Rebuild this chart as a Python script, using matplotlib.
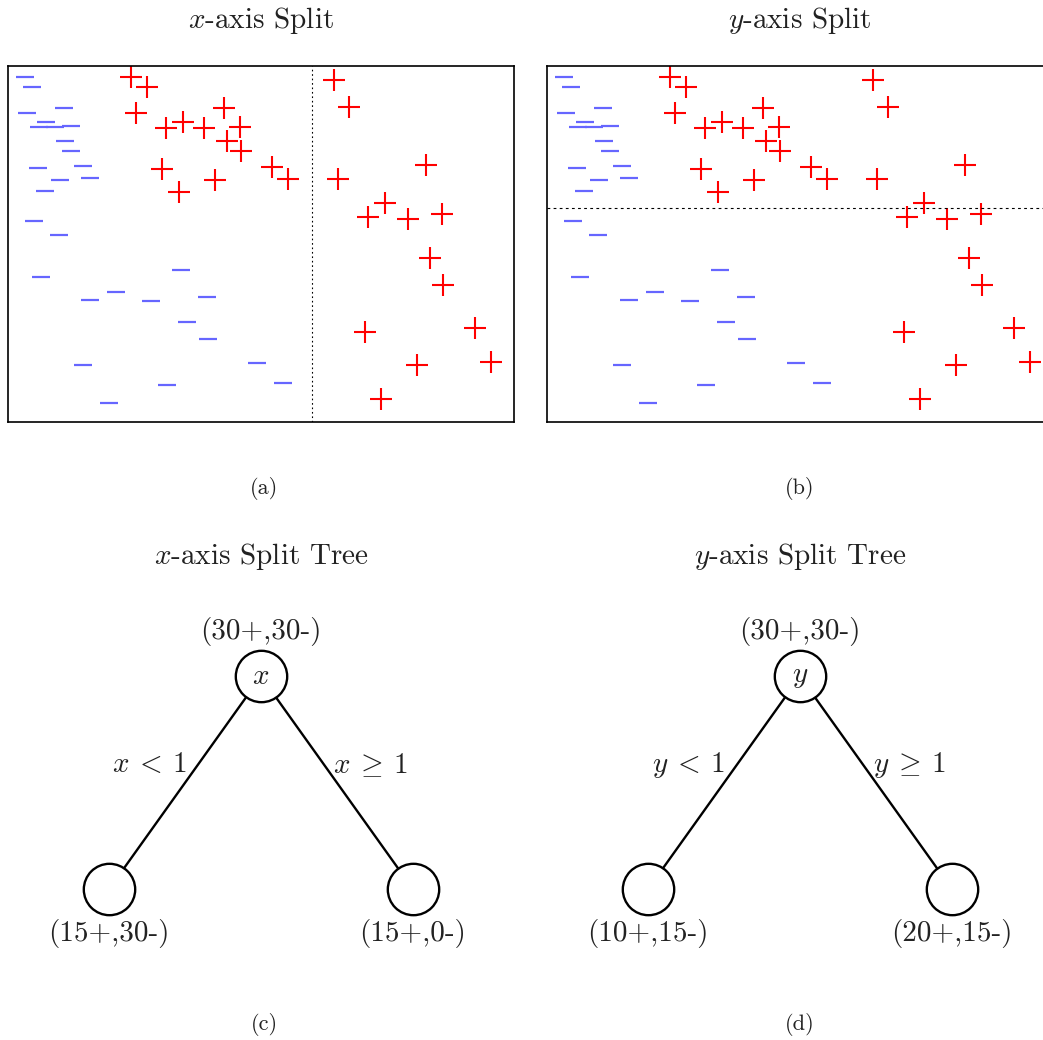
import matplotlib
matplotlib.use("Agg")
import matplotlib.pyplot as plt
import numpy as np

plt.rcParams.update({
    "font.family": "serif",
    "font.serif": ["cmr10", "DejaVu Serif"],
    "mathtext.fontset": "cm",
    "axes.unicode_minus": False,
})

TEXT = "#222222"
RED = "#ff0000"
BLUE = "#6666ff"

# ── data (same points in both scatter panels) ──────────────────
pos_x = [-0.78, -0.63, -0.74, 0.13, -0.44, -0.27, -0.06, 0.29, 0.16, 0.30,
         -0.48, 0.61, 0.05, 0.77, -0.31,
         1.22, 1.37, 2.13, 1.26, 1.73, 1.56, 1.95, 2.29, 2.17, 2.30,
         1.53, 2.61, 2.04, 2.77, 1.69]
pos_y = [2.84, 2.70, 2.34, 2.41, 2.13, 2.21, 2.13, 2.15, 1.94, 1.80,
         1.56, 1.58, 1.40, 1.41, 1.23,
         2.80, 2.43, 1.61, 1.41, 1.07, 0.88, 0.85, 0.92, 0.31, -0.08,
         -0.74, -0.68, -1.20, -1.16, -1.68]
neg_x = [-1.83, -1.76, -1.81, -1.45, -1.62, -1.69, -1.54, -1.38, -1.44, -1.38,
         -1.70, -1.26, -1.49, -1.19, -1.63,
         -1.74, -1.50, -1.67, -0.29, -0.93, -1.19, -0.59, -0.03, -0.23, -0.02,
         -1.26, 0.46, -0.43, 0.72, -1.00]
neg_y = [2.85, 2.71, 2.34, 2.41, 2.22, 2.15, 2.15, 2.16, 1.95, 1.81,
         1.57, 1.59, 1.40, 1.42, 1.24,
         0.83, 0.62, 0.04, 0.14, -0.17, -0.28, -0.30, -0.25, -0.59, -0.83,
         -1.20, -1.17, -1.48, -1.45, -1.74]

x_split = 1.0
y_split = 1.0

# ── tree data ─────────────────────────────────────────────────
tree_x = [0.2, 0.5, 0.8]     # left leaf, root, right leaf
tree_y = [0.18, 0.6, 0.18]
x_tree_counts = ["(15+,30-)", "(30+,30-)", "(15+,0-)"]
y_tree_counts = ["(10+,15-)", "(30+,30-)", "(20+,15-)"]
x_edge_labels = [r"$x\:<\:1$", r"$x\:\geq\:1$"]
y_edge_labels = [r"$y\:<\:1$", r"$y\:\geq\:1$"]

W, H = 1043, 1040
FS = 21
fig = plt.figure(figsize=(W / 100, H / 100), dpi=100)


def px_rect(l, t, r, b):
    return [l / W, 1 - b / H, (r - l) / W, (b - t) / H]


def scatter_panel(rect, split_axis):
    ax = fig.add_axes(rect)
    ax.plot(neg_x, neg_y, ls="none", marker="_", ms=12.5, mew=1.6, color=BLUE)
    ax.plot(pos_x, pos_y, ls="none", marker="+", ms=16, mew=1.5, color=RED)
    if split_axis == "x":
        ax.axvline(x_split, color="black", lw=0.8, ls=(0, (1.5, 2.5)))
    else:
        ax.axhline(y_split, color="black", lw=0.8, ls=(0, (2.5, 3)))
    ax.set_xlim(-2, 3)
    ax.set_ylim(-2, 3)
    ax.set_xticks([])
    ax.set_yticks([])
    for s in ax.spines.values():
        s.set_linewidth(1.2)
    return ax


def tree_panel(rect, counts, edge_labels, var):
    ax = fig.add_axes(rect)
    ax.set_xlim(0, 1)
    ax.set_ylim(0, 0.751)
    ax.axis("off")
    for i in (0, 2):
        ax.plot([tree_x[1], tree_x[i]], [tree_y[1], tree_y[i]], color="black", lw=1.7, zorder=1)
    ax.plot(tree_x, tree_y, ls="none", marker="o", ms=37, mfc="white", mec="black", mew=1.7, zorder=2)
    ax.text(tree_x[1], tree_y[1], f"${var}$", ha="center", va="center", fontsize=FS, color=TEXT, zorder=3)
    ax.annotate(counts[1], (tree_x[1], tree_y[1]), xytext=(0, 32), textcoords="offset points",
                ha="center", va="center", fontsize=FS, color=TEXT)
    for i in (0, 2):
        ax.annotate(counts[i], (tree_x[i], tree_y[i]), xytext=(0, -32), textcoords="offset points",
                    ha="center", va="center", fontsize=FS, color=TEXT)
    ax.annotate(edge_labels[0], ((tree_x[0] + tree_x[1]) / 2, (tree_y[0] + tree_y[1]) / 2),
                xytext=(-25.5, 12.5), textcoords="offset points", ha="center", va="center",
                fontsize=FS, color=TEXT)
    ax.annotate(edge_labels[1], ((tree_x[2] + tree_x[1]) / 2, (tree_y[2] + tree_y[1]) / 2),
                xytext=(24, 12.5), textcoords="offset points", ha="center", va="center",
                fontsize=FS, color=TEXT)
    return ax


scatter_panel(px_rect(8, 66, 514, 422), "x")
scatter_panel(px_rect(547, 66, 1053, 422), "y")
tree_panel(px_rect(8, 600, 514, 980), x_tree_counts, x_edge_labels, "x")
tree_panel(px_rect(547, 600, 1053, 980), y_tree_counts, y_edge_labels, "y")

fig.text(261 / W, 1 - 20 / H, r"$x$-axis Split", ha="center", va="center", fontsize=FS, color=TEXT)
fig.text(800 / W, 1 - 20 / H, r"$y$-axis Split", ha="center", va="center", fontsize=FS, color=TEXT)
fig.text(264 / W, 1 - 488 / H, "(a)", ha="center", va="center", fontsize=16, color=TEXT)
fig.text(800 / W, 1 - 488 / H, "(b)", ha="center", va="center", fontsize=16, color=TEXT)
fig.text(261 / W, 1 - 557 / H, r"$x$-axis Split Tree", ha="center", va="center", fontsize=FS, color=TEXT)
fig.text(800 / W, 1 - 557 / H, r"$y$-axis Split Tree", ha="center", va="center", fontsize=FS, color=TEXT)
fig.text(264 / W, 1 - 1025 / H, "(c)", ha="center", va="center", fontsize=16, color=TEXT)
fig.text(800 / W, 1 - 1025 / H, "(d)", ha="center", va="center", fontsize=16, color=TEXT)

fig.savefig("out.png", dpi=100, facecolor="white")
